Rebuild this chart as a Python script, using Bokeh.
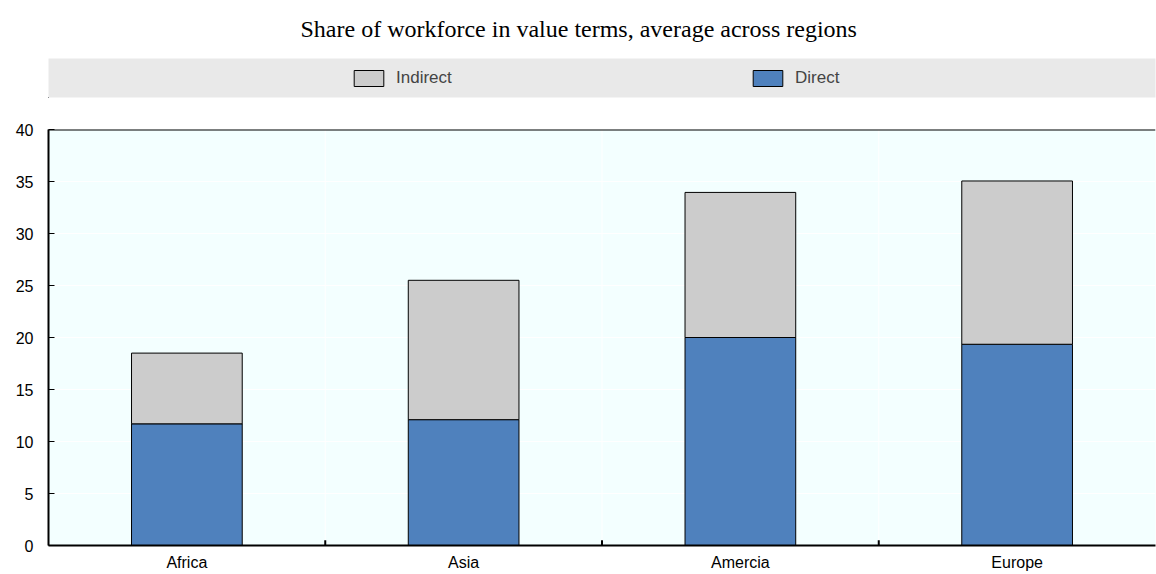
from bokeh.plotting import figure
from bokeh.models import ColumnDataSource, Range1d, FactorRange, Legend, LegendItem, Span
from bokeh.layouts import column
from bokeh.embed import file_html
from bokeh.resources import INLINE

categories = ["Africa", "Asia", "Amercia", "Europe"]
direct = [11.7, 12.1, 20.0, 19.35]
indirect = [6.8, 13.4, 13.95, 15.7]
y_ticks = [0, 5, 10, 15, 20, 25, 30, 35, 40]
title_text = "Share of workforce in value terms, average across regions"

BLUE = "#4F81BD"
GRAY = "#CCCCCC"
BG = "#F3FFFF"
BAND = "#E9E9E9"
SANS = "Liberation Sans"

# ---------- top: title + legend band ----------
top = figure(width=1156, height=110, output_backend="svg", toolbar_location=None,
             x_axis_location=None, y_axis_location=None,
             x_range=Range1d(0, 1), y_range=Range1d(0, 1),
             min_border_left=48, min_border_right=1, min_border_top=58, min_border_bottom=13,
             title=title_text)
top.background_fill_color = BAND
top.border_fill_color = "white"
top.outline_line_color = None
top.grid.visible = False
top.title.text_font = "Liberation Serif"
top.title.text_font_size = "24px"
top.title.text_font_style = "normal"
top.title.text_color = "black"
top.title.align = "left"
top.title.vertical_align = "top"
top.title.offset = 252
top.title.standoff = 30

# legend proxies: kept outside the visible range, only used to draw legend swatches
proxy = ColumnDataSource(data=dict(x=[-10], top=[-10]))
r_ind = top.vbar(x="x", top="top", width=1, source=proxy, fill_color=GRAY, line_color="black", line_width=1)
r_dir = top.vbar(x="x", top="top", width=1, source=proxy, fill_color=BLUE, line_color="black", line_width=1)

for label, rend, xpos in [("Indirect", r_ind, 302), ("Direct", r_dir, 701)]:
    lg = Legend(items=[LegendItem(label=label, renderers=[rend])], location=(xpos, 9),
                orientation="horizontal", glyph_width=37, glyph_height=20, label_standoff=9,
                padding=0, margin=0, spacing=0, background_fill_alpha=0, border_line_color=None,
                label_text_font=SANS, label_text_font_size="17px", label_height=20)
    top.add_layout(lg, "center")

# ---------- main chart ----------
source = ColumnDataSource(data=dict(cat=categories, direct=direct, indirect=indirect))

p = figure(width=1156, height=464, output_backend="svg", toolbar_location=None,
           x_range=FactorRange(factors=categories, range_padding=0), y_range=Range1d(0, 40),
           min_border_left=47, min_border_right=0, min_border_top=19, min_border_bottom=29)
p.background_fill_color = BG
p.border_fill_color = "white"
p.outline_line_color = None

p.vbar_stack(["direct", "indirect"], x="cat", width=0.4, source=source,
             fill_color=[BLUE, GRAY], line_color="black", line_width=1)

# grid
p.xgrid.visible = False
p.ygrid.grid_line_color = "white"
p.ygrid.grid_line_width = 1
p.yaxis.ticker = y_ticks
bounds = list(range(1, len(categories)))
for b in bounds:
    p.add_layout(Span(location=b, dimension="height", line_color="white", line_width=1, level="underlay"))

# boundary ticks on x axis
p.segment(x0=bounds, x1=bounds, y0=[0] * len(bounds), y1=[0.5] * len(bounds), line_color="black", line_width=2)

# top border line
p.add_layout(Span(location=40, dimension="width", line_color="black", line_width=2))

# axes
for ax in (p.xaxis, p.yaxis):
    ax.axis_line_color = "black"
    ax.axis_line_width = 2
    ax.major_label_text_font = SANS
    ax.major_label_text_font_size = "16px"
    ax.major_label_text_color = "black"
    ax.minor_tick_line_color = None

p.xaxis.major_tick_line_color = None
p.xaxis.major_tick_in = 0
p.xaxis.major_tick_out = 0
p.xaxis.major_label_standoff = 8

p.yaxis.major_tick_in = 6
p.yaxis.major_tick_out = 0
p.yaxis.major_tick_line_color = "black"
p.yaxis.major_tick_line_width = 1
p.yaxis.major_label_standoff = 15

layout = column(top, p, spacing=0)
open("out.html", "w").write(file_html(layout, INLINE))
